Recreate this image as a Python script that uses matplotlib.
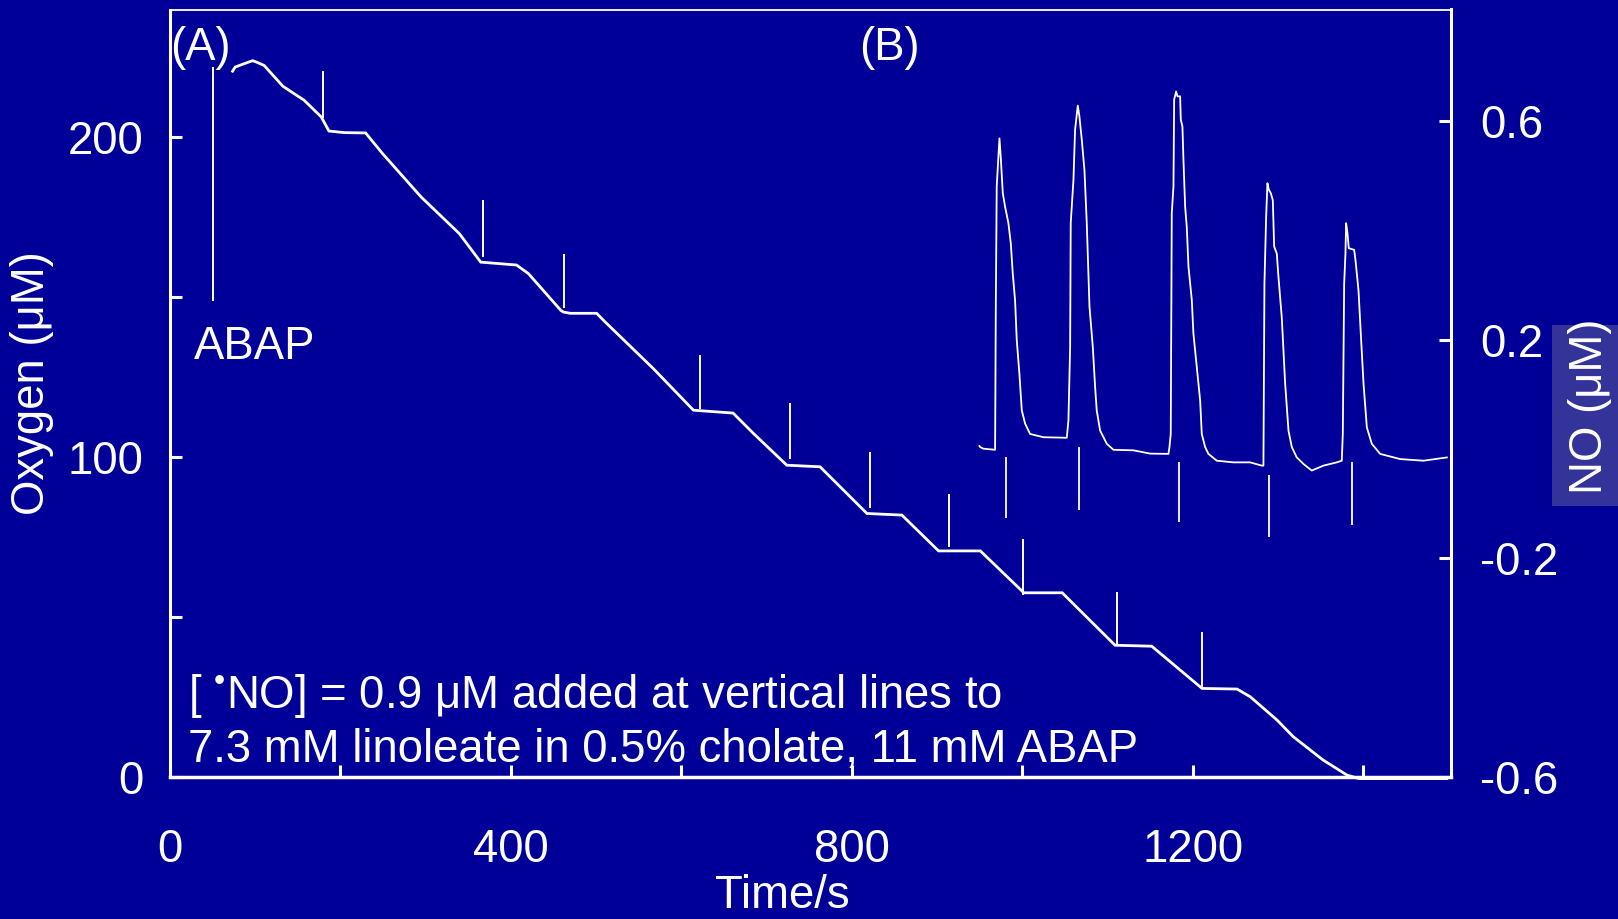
import matplotlib
matplotlib.use("Agg")
import matplotlib.pyplot as plt
from matplotlib.patches import Rectangle
from matplotlib.ticker import FixedLocator, NullFormatter

plt.rcParams['font.family'] = ['Liberation Sans', 'DejaVu Sans']
plt.rcParams['mathtext.fontset'] = 'custom'
plt.rcParams['mathtext.rm'] = 'Liberation Sans'
plt.rcParams['mathtext.it'] = 'Liberation Sans'
plt.rcParams['mathtext.bf'] = 'Liberation Sans'

# ---------------- data ----------------
# Oxygen trace (left axis, µM) vs time (s)
o2_time = [74, 77, 87, 97.5, 101.6, 111, 133, 158, 178, 187, 205, 230, 250, 295, 340, 365,
           407, 421, 459, 462, 470, 501, 509, 567.5, 614.5, 661, 685, 724, 763, 818, 859,
           902, 951, 1002, 1047, 1109, 1152, 1211, 1252, 1267.5, 1299, 1318, 1353, 1381,
           1395, 1498]
o2_conc = [220.7, 222, 223, 224, 223.6, 222.5, 216, 211.6, 206.4, 202, 201.5, 201.4, 194.9,
           181.4, 169.9, 161, 160.1, 157.4, 145.9, 145.4, 145, 145, 142.8, 127.7, 114.7,
           113.8, 107.4, 97.5, 97, 82.4, 81.9, 70.7, 70.7, 57.6, 57.6, 41.2, 40.9, 27.7,
           27.5, 25.1, 17.8, 12.6, 5.3, 0.6, -0.5, -0.5]

# vertical marker lines on the oxygen trace (ABAP + NO additions)
o2_mark_time = [51.6, 179.6, 367.7, 463.1, 622.7, 728.2, 822, 914, 1001.6, 1111, 1211.5]
o2_mark_top = [222, 220.7, 180.3, 163.7, 131.9, 116.8, 101.7, 88.6, 74.3, 57.7, 45.4]
o2_mark_bottom = [149, 206, 162.6, 146.8, 115.2, 99.3, 84.2, 72, 56.9, 41.25, 27.7]

# NO trace (right axis, µM) vs time (s)
no_time = [950, 950.7, 954.6, 968.3, 969.1, 970.2, 973.4, 974.9, 977.3, 980, 983.9, 986.7,
           989, 991.7, 993.7, 996.8, 999.6, 1003.5, 1009.3, 1025, 1052.4, 1054.3, 1056.3,
           1057, 1060.2, 1062.1, 1065.3, 1067.2, 1070, 1073.1, 1075.8, 1079, 1082.9, 1085.6,
           1087.5, 1091.5, 1099.3, 1107.1, 1130.6, 1150.1, 1171.6, 1172.8, 1174.3, 1175.5,
           1177.5, 1178.3, 1180.6, 1182.2, 1185.3, 1186.1, 1188, 1189.2, 1191.2, 1193.1,
           1195.1, 1199, 1200.9, 1204.8, 1208.8, 1210.7, 1214.6, 1218.5, 1228.3, 1247.9,
           1267.4, 1281.1, 1283, 1284.2, 1286.2, 1287.7, 1289.3, 1291.6, 1294, 1295.6,
           1298.7, 1300.6, 1304.5, 1308.5, 1312.4, 1316.3, 1322.1, 1330, 1339.7, 1353.4,
           1369.1, 1374.9, 1376.1, 1377.7, 1379.2, 1380, 1381.6, 1383.1, 1389.4, 1391,
           1394.5, 1397.2, 1400.4, 1404.3, 1410.1, 1419.9, 1443.4, 1470.7, 1498.1]
no_conc = [0.006, 0.004, 0.001, -0.001, 0.254, 0.481, 0.569, 0.536, 0.469, 0.444, 0.414,
           0.377, 0.322, 0.273, 0.2, 0.138, 0.071, 0.047, 0.028, 0.022, 0.021, 0.053, 0.187,
           0.414, 0.493, 0.585, 0.629, 0.609, 0.566, 0.511, 0.414, 0.261, 0.187, 0.114,
           0.071, 0.034, 0.01, -0.001, -0.002, -0.008, -0.0085, 0.004, 0.028, 0.432, 0.481,
           0.64, 0.655, 0.646, 0.646, 0.603, 0.591, 0.53, 0.444, 0.407, 0.334, 0.273, 0.212,
           0.151, 0.089, 0.028, 0.004, -0.0085, -0.021, -0.024, -0.024, -0.03, -0.03, 0.303,
           0.426, 0.487, 0.475, 0.469, 0.456, 0.371, 0.358, 0.316, 0.242, 0.12, 0.034,
           0.004, -0.015, -0.027, -0.039, -0.03, -0.024, -0.021, 0.028, 0.303, 0.358, 0.414,
           0.395, 0.368, 0.365, 0.346, 0.291, 0.212, 0.12, 0.04, 0.01, -0.0085, -0.018,
           -0.021, -0.015]

# vertical marker lines under the NO trace
no_mark_time = [980.9, 1066.2, 1183.9, 1289.7, 1386.7]
no_mark_top = [-0.015, 0.004, -0.023, -0.047, -0.023]
no_mark_bottom = [-0.125, -0.112, -0.134, -0.160, -0.139]

x_major = [0, 400, 800, 1200]
x_minor = [200, 600, 1000, 1400]
y_major = [0, 100, 200]
y_minor = [50, 150]
y2_ticks = [-0.6, -0.2, 0.2, 0.6]

# ---------------- figure ----------------
BG = '#000099'
W, H = 1618, 919
fig = plt.figure(figsize=(W / 100, H / 100), dpi=100, facecolor=BG)

L, R, T, B = 169.5, 1451, 9.5, 777
ax = fig.add_axes([L / W, 1 - B / H, (R - L) / W, (B - T) / H])
ax.set_facecolor(BG)
ax.set_xlim(0, 1503)
ax.set_ylim(0, 240)

ax2 = ax.twinx()
ax2.set_ylim(-0.6, 0.805)

FS = 32.8

# traces
ax.plot(o2_time, o2_conc, color='white', lw=2.0, clip_on=False, solid_joinstyle='miter')
ax.vlines(o2_mark_time, o2_mark_bottom, o2_mark_top, color='white', lw=1.4)
ax2.plot(no_time, no_conc, color='white', lw=1.3)
ax2.vlines(no_mark_time, no_mark_bottom, no_mark_top, color='white', lw=1.3)

# spines
for sp in ['left', 'bottom', 'top', 'right']:
    ax.spines[sp].set_color('white')
    ax2.spines[sp].set_color('white')
ax.spines['left'].set_linewidth(2.2)
ax.spines['bottom'].set_linewidth(2.5)
ax.spines['top'].set_linewidth(1.3)
ax.spines['right'].set_visible(False)
for sp in ['left', 'bottom', 'top']:
    ax2.spines[sp].set_visible(False)
ax2.spines['right'].set_linewidth(2.2)

# ticks
ax.xaxis.set_major_locator(FixedLocator(x_major))
ax.xaxis.set_minor_locator(FixedLocator(x_minor))
ax.yaxis.set_major_locator(FixedLocator(y_major))
ax.yaxis.set_minor_locator(FixedLocator(y_minor))
ax.xaxis.set_minor_formatter(NullFormatter())
ax.yaxis.set_minor_formatter(NullFormatter())
ax.set_xticklabels([str(v) for v in x_major])
ax.set_yticklabels([str(v) for v in y_major])
ax.tick_params(which='both', direction='in', length=8.6, width=2.2, colors='white',
               labelsize=FS, top=False, right=False)
ax.tick_params(axis='x', which='both', pad=37)
ax.tick_params(axis='y', which='both', pad=19)

ax2.yaxis.set_major_locator(FixedLocator(y2_ticks))
ax2.set_yticklabels([f'{v:.1f}' for v in y2_ticks])
ax2.tick_params(axis='y', direction='in', length=8.6, width=2.2, colors='white',
                labelsize=FS, pad=21)

# texts (positions in pixels from top-left)
def fx(x):
    return x / W

def fy(y):
    return 1 - y / H

fig.text(fx(170), fy(48), '(A)', color='white', fontsize=FS, ha='left', va='center')
fig.text(fx(889), fy(48), '(B)', color='white', fontsize=FS, ha='center', va='center')
fig.text(fx(194), fy(359), 'ABAP', color='white', fontsize=FS, ha='left', va='baseline')
fig.text(fx(188), fy(708), '[ $^{\u2022}$NO] = 0.9 μM added at vertical lines to',
         color='white', fontsize=FS, ha='left', va='baseline')
fig.text(fx(188), fy(762), '7.3 mM linoleate in 0.5% cholate, 11 mM ABAP',
         color='white', fontsize=FS, ha='left', va='baseline')
fig.text(fx(32), fy(383), 'Oxygen (μM)', color='white', fontsize=FS, rotation=90,
         ha='center', va='center')
fig.text(fx(782), fy(908), 'Time/s', color='white', fontsize=FS, ha='center',
         va='baseline')

fig.patches.append(Rectangle((fx(1552), fy(506)), fx(1618) - fx(1552), fy(325) - fy(506),
                             transform=fig.transFigure, facecolor='#333399',
                             edgecolor='none', zorder=0))
fig.text(fx(1590), fy(406), 'NO (μM)', color='white', fontsize=FS, rotation=90,
         ha='center', va='center')

fig.savefig('out.png', dpi=100, facecolor=BG)
